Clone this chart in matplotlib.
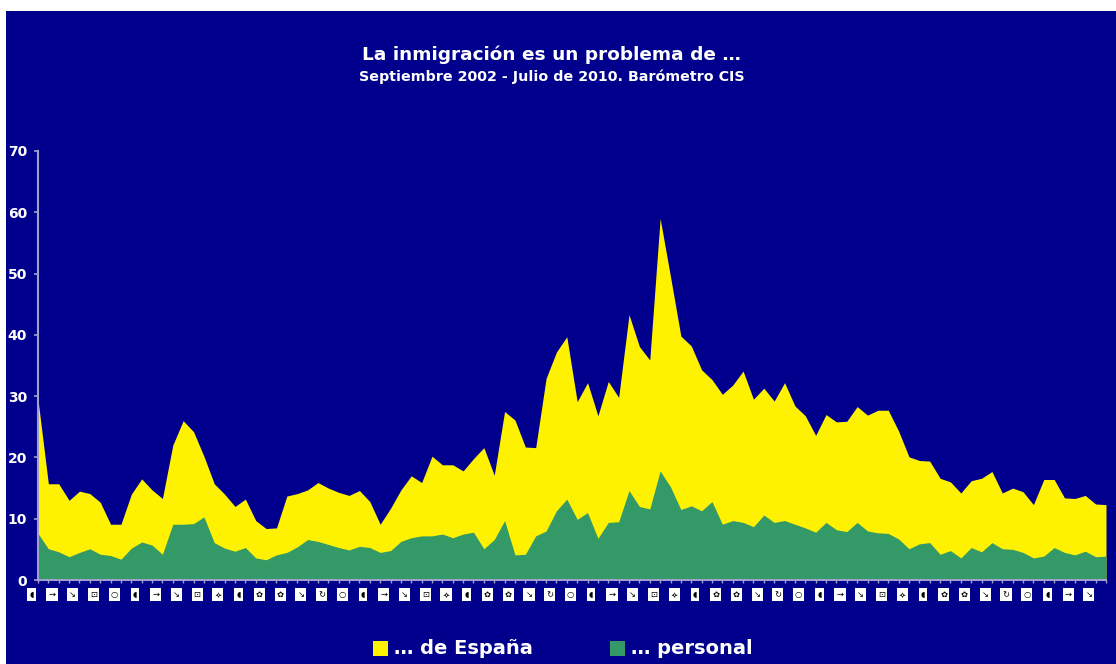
import numpy as np
import matplotlib
matplotlib.use('Agg')
import matplotlib.pyplot as plt
from matplotlib.patches import Rectangle
from matplotlib.transforms import blended_transform_factory

# === Datos (Barómetro CIS) ===
espana = [29.4, 15.7, 15.7, 13.0, 14.5, 14.1, 12.7, 9.1, 9.1, 14.0,
          16.5, 14.7, 13.3, 22.0, 26.0, 24.2, 20.2, 15.7, 14.0, 12.0,
          13.2, 9.7, 8.4, 8.5, 13.7, 14.1, 14.7, 15.9, 15.0, 14.3,
          13.8, 14.6, 12.8, 9.1, 11.7, 14.7, 17.0, 15.9, 20.2, 18.8,
          18.8, 17.8, 19.8, 21.6, 17.1, 27.5, 26.1, 21.7, 21.6, 32.9,
          37.2, 39.7, 29.1, 32.2, 26.8, 32.4, 29.8, 43.3, 38.1, 35.9,
          59.0, 49.5, 39.8, 38.2, 34.3, 32.7, 30.3, 31.8, 34.1, 29.5,
          31.3, 29.2, 32.2, 28.4, 26.8, 23.6, 27.0, 25.8, 25.9, 28.3,
          26.9, 27.7, 27.7, 24.3, 20.1, 19.5, 19.4, 16.6, 16.0, 14.2,
          16.2, 16.6, 17.7, 14.2, 15.0, 14.4, 12.3, 16.4, 16.4, 13.4,
          13.3, 13.8, 12.4, 12.3]

personal = [7.6, 5.1, 4.6, 3.8, 4.5, 5.1, 4.2, 4.0, 3.4, 5.2,
            6.2, 5.7, 4.2, 9.1, 9.1, 9.2, 10.3, 6.1, 5.2, 4.7,
            5.3, 3.6, 3.3, 4.1, 4.5, 5.4, 6.6, 6.3, 5.8, 5.3,
            4.9, 5.5, 5.3, 4.5, 4.8, 6.3, 6.9, 7.2, 7.2, 7.5,
            6.9, 7.5, 7.8, 5.1, 6.6, 9.7, 4.1, 4.2, 7.2, 8.0,
            11.3, 13.2, 9.9, 11.0, 6.8, 9.4, 9.5, 14.6, 12.0, 11.6,
            17.8, 15.2, 11.5, 12.1, 11.3, 12.8, 9.1, 9.7, 9.4, 8.7,
            10.6, 9.4, 9.7, 9.1, 8.5, 7.8, 9.4, 8.2, 7.9, 9.4,
            8.0, 7.7, 7.6, 6.7, 5.1, 5.9, 6.1, 4.2, 4.8, 3.6,
            5.3, 4.6, 6.1, 5.1, 5.0, 4.5, 3.6, 3.9, 5.3, 4.5,
            4.1, 4.7, 3.8, 3.9]

# Etiquetas del eje X (en el original salen como símbolos ilegibles)
etiquetas = ['◖', '⇝', '↘', '⊡', '○', '◖', '⇝', '↘', '⊡', '✧',
             '◖', '✿', '✿', '↘', '↻', '○', '◖', '⇝', '↘', '⊡',
             '✧', '◖', '✿', '✿', '↘', '↻',
             '○', '◖', '⇝', '↘', '⊡', '✧', '◖', '✿', '✿', '↘',
             '↻', '○', '◖', '⇝', '↘', '⊡', '✧', '◖', '✿', '✿',
             '↘', '↻', '○', '◖', '⇝', '↘']

series_nombres = ['… de España', '… personal']

# === Colores ===
AZUL = '#00008C'
AMARILLO = '#FFF200'
VERDE = '#339966'
EJE = '#A0A0CC'

W, H = 1116, 664
fig = plt.figure(figsize=(W / 100, H / 100), dpi=100, facecolor='white')

# fondo azul (con margen blanco arriba e izquierda como en el original)
fig.patches.append(Rectangle((6 / W, 0), 1 - 6 / W, 1 - 11 / H,
                             transform=fig.transFigure, facecolor=AZUL,
                             edgecolor='none', zorder=-5))

ax = fig.add_axes([38 / W, 84 / H, (1106 - 38) / W, (580 - 151) / H])
ax.set_zorder(2)
ax.set_facecolor(AZUL)

x = np.arange(len(espana))
ax.fill_between(x, 0, espana, color=AMARILLO, linewidth=0)
ax.fill_between(x, 0, personal, color=VERDE, linewidth=0)

ax.set_xlim(0, len(espana) - 1)
ax.set_ylim(0, 70)
ax.set_yticks(np.arange(0, 71, 10))
ax.set_xticks(x)
ax.set_xticklabels([])

for s in ['top', 'right']:
    ax.spines[s].set_visible(False)
for s in ['left', 'bottom']:
    ax.spines[s].set_color(EJE)
    ax.spines[s].set_linewidth(1.5)

ax.tick_params(axis='y', colors=EJE, length=3, width=1.2, pad=5,
               labelcolor='white', labelsize=10)
ax.tick_params(axis='x', colors=EJE, length=2.5, width=1)
for t in ax.get_yticklabels():
    t.set_fontweight('bold')

# etiquetas del eje X en cajitas blancas
trans = blended_transform_factory(ax.transData, ax.transAxes)
for k, lab in enumerate(etiquetas):
    ax.text(2 * k - 0.65, -0.034, lab, transform=trans, ha='center',
            va='center', fontsize=6, color='black', clip_on=False,
            bbox=dict(boxstyle='square,pad=0.25', facecolor='white',
                      edgecolor='none'))

# === Títulos ===
fig.text(0.4945, 1 - 55 / H, 'La inmigración es un problema de …',
         ha='center', va='center', color='white', fontsize=13.3,
         fontweight='bold')
fig.text(0.4945, 1 - 77 / H, 'Septiembre 2002 - Julio de 2010. Barómetro CIS',
         ha='center', va='center', color='white', fontsize=10.3,
         fontweight='bold')

# === Leyenda manual ===
for xs, col, nombre in [(373, AMARILLO, series_nombres[0]),
                        (610, VERDE, series_nombres[1])]:
    fig.patches.append(Rectangle((xs / W, 1 - 656 / H), 15 / W, 15 / H,
                                 transform=fig.transFigure, facecolor=col,
                                 edgecolor='none'))
    fig.text((xs + 21) / W, 1 - 648 / H, nombre, ha='left', va='center',
             color='white', fontsize=14, fontweight='bold')

fig.savefig('out.png', dpi=100, facecolor='white')
